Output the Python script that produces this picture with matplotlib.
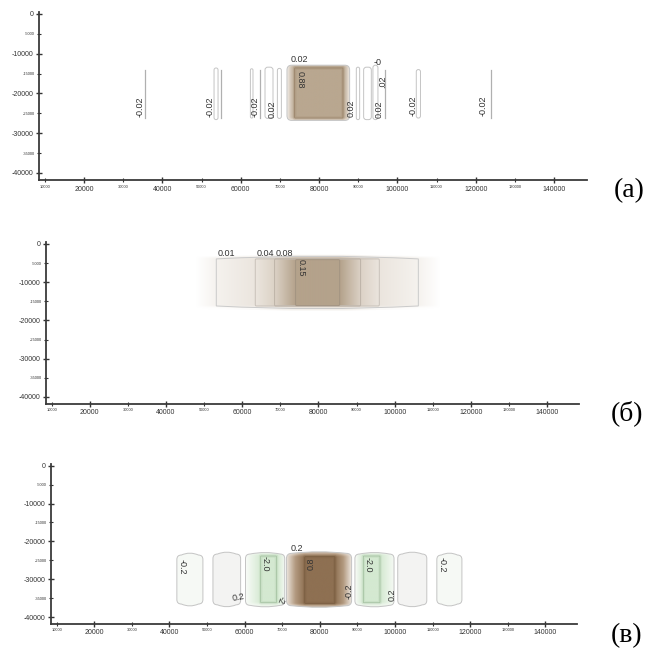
import matplotlib
matplotlib.use('Agg')
import matplotlib.pyplot as plt
import numpy as np
from matplotlib.path import Path
from matplotlib.patches import PathPatch
from matplotlib.colors import LinearSegmentedColormap
from matplotlib.ticker import MultipleLocator, FuncFormatter

plt.rcParams['font.family'] = ['Liberation Sans', 'DejaVu Sans']

X_LIM = (8500, 148400)
Y_LIM = (-41800, 400)

# ---- panel (а) ----
# narrow closed contours (left x, right x, top y, bottom y)
a_loop_x0 = [53190, 62470, 66200, 69360, 89510, 91380, 93750, 104820]
a_loop_x1 = [54210, 63130, 68240, 70380, 90360, 93340, 95030, 105890]
a_loop_top = [-13600, -13800, -13400, -13700, -13400, -13400, -12900, -14000]
a_loop_bot = [-26600, -26200, -26300, -26300, -26600, -26600, -26600, -26200]
# open contour lines
a_line_x = [35690, 54900, 64850, 96740, 123770]
a_line_top = -14000
a_line_bot = -26200
# central body: 0.02 contour and 0.88 contour
a_body_outer = [71810, 87800, -12900, -26800]
a_body_inner = [73780, 86100, -13600, -26200]
a_lab_text = ['-0.02', '-0.02', '-0.02', '0.02', '0.02', '0.88', '0.02', '0.02', '-0', '.02', '-0.02', '-0.02']
a_lab_x = [34400, 52090, 63570, 67910, 75050, 75220, 88290, 95280, 95020, 96300, 103880, 121820]
a_lab_y = [-23250, -23350, -23350, -24080, -11500, -16500, -23850, -24080, -12300, -16960, -23070, -23070]
a_lab_rot = [90, 90, 90, 90, 0, -90, 90, 90, 0, 90, 90, 90]

# ---- panel (б) ----
b_levels = [0.01, 0.04, 0.08, 0.15]
b_x0 = [53190, 63420, 68490, 74000]
b_x1 = [106220, 95970, 91060, 85570]
b_top = [-3900, -3900, -3900, -4100]
b_bot = [-16200, -16200, -16200, -16100]
b_glow = [47670, 111990, -3300, -16900]
b_lab_text = ['0.01', '0.04', '0.08', '0.15']
b_lab_x = [55810, 66050, 71040, 75500]
b_lab_y = [-2430, -2430, -2430, -6270]
b_lab_rot = [0, 0, 0, -90]

# ---- panel (в) ----
# plain closed contours
c_loop_x0 = [41980, 51580, 100730, 111130]
c_loop_x1 = [48910, 58940, 108460, 117800]
c_loop_top = [-23610, -23350, -23350, -23610]
c_loop_bot = [-36570, -36780, -36780, -36570]
c_loop_fill = ['#f6f9f5', '#f3f3f2', '#f3f3f2', '#f6f9f5']
# green bodies (outer contour, inner -2.0 contour)
c_green_outer = [[60240, 70670, -23350, -36910], [89340, 99740, -23350, -36910]]
c_green_inner = [[64270, 68470, -23880, -36220], [91580, 96010, -23880, -36220]]
# central brown body
c_body_outer = [71130, 88460, -23160, -37020]
c_body_inner = [76010, 84010, -24060, -36380]
c_lab_text = ['-0.2', '0.2', '-2.0', '-2', '0.2', '0.8', '-0.2', '-2.0', '0.2', '-0.2']
c_lab_x = [43310, 58240, 65530, 69530, 73790, 77790, 87740, 92910, 99130, 112460]
c_lab_y = [-26700, -34900, -25800, -35500, -21840, -25810, -33300, -26250, -34200, -26250]
c_lab_rot = [-90, 10, -90, -110, 0, 90, 90, -90, 90, -90]

OUTLINE = '#c4c4c4'
TXT = '#333333'


def barrel_path(x0, x1, top, bot, r=700, bulge=0):
    r = min(r, (x1 - x0) / 2, (top - bot) / 2)
    xm = (x0 + x1) / 2
    verts = [(x0, bot + r), (x0, top - r),
             (x0, top), (x0 + r, top),
             (xm, top + 2 * bulge), (x1 - r, top),
             (x1, top), (x1, top - r),
             (x1, bot + r),
             (x1, bot), (x1 - r, bot),
             (xm, bot - 2 * bulge), (x0 + r, bot),
             (x0, bot), (x0, bot + r),
             (x0, bot + r)]
    codes = [Path.MOVETO, Path.LINETO,
             Path.CURVE3, Path.CURVE3,
             Path.CURVE3, Path.CURVE3,
             Path.CURVE3, Path.CURVE3,
             Path.LINETO,
             Path.CURVE3, Path.CURVE3,
             Path.CURVE3, Path.CURVE3,
             Path.CURVE3, Path.CURVE3,
             Path.CLOSEPOLY]
    return Path(verts, codes)


def outline(ax, box, r=700, bulge=0, ec=OUTLINE, fc='none', lw=0.7, z=3):
    p = PathPatch(barrel_path(*box, r=r, bulge=bulge), fc=fc, ec=ec, lw=lw, zorder=z)
    ax.add_patch(p)
    return p


def body(ax, outer, inner, colors, edge, bulge=0, r=900):
    """Shaded body between an outer contour and an inner contour."""
    x0, x1, top, bot = outer
    ix0, ix1, itop, ibot = inner
    xs = np.linspace(x0, x1, 300)
    ys = np.linspace(bot - 2 * bulge, top + 2 * bulge, 120)
    fx = np.interp(xs, [x0, ix0, ix1, x1], [0, 1, 1, 0])
    fy = np.interp(ys, [bot, ibot, itop, top], [0.35, 1, 1, 0.35])
    cmap = LinearSegmentedColormap.from_list('b', colors)
    clip = outline(ax, outer, r=r, bulge=bulge, z=3)
    im = ax.imshow(np.outer(fy, fx), extent=(x0, x1, ys[0], ys[-1]), origin='lower',
                   cmap=cmap, vmin=0, vmax=1, aspect='auto', interpolation='bilinear', zorder=1)
    im.set_clip_path(clip)
    # soft shadow along the inner contour
    outline(ax, inner, r=150, ec=edge, lw=2.5, z=2).set_alpha(0.15)
    outline(ax, inner, r=150, ec=edge, lw=0.5, z=3).set_alpha(0.7)


def labels(ax, texts, xs, ys, rots):
    for t, x, y, r in zip(texts, xs, ys, rots):
        ax.text(x, y, t, rotation=r, ha='center', va='center', fontsize=6.5, color=TXT, zorder=5)


def style_axes(ax):
    ax.set_xlim(*X_LIM)
    ax.set_ylim(*Y_LIM)
    for s in ('top', 'right'):
        ax.spines[s].set_visible(False)
    for s in ('left', 'bottom'):
        ax.spines[s].set_linewidth(1.3)
        ax.spines[s].set_color('#3a3a3a')
    ax.xaxis.set_major_locator(MultipleLocator(20000))
    ax.xaxis.set_minor_locator(MultipleLocator(10000))
    ax.yaxis.set_major_locator(MultipleLocator(10000))
    ax.yaxis.set_minor_locator(MultipleLocator(5000))
    fmt = FuncFormatter(lambda v, p: f'{int(round(v))}')
    for axis in (ax.xaxis, ax.yaxis):
        axis.set_major_formatter(fmt)
        axis.set_minor_formatter(fmt)
    ax.tick_params(which='major', direction='inout', length=5, width=1.0, color='#333333',
                   labelsize=5, labelcolor=TXT, pad=1.5)
    ax.tick_params(which='minor', direction='inout', length=2.5, width=0.8, color='#333333',
                   labelsize=2.9, labelcolor=TXT, pad=2)


fig = plt.figure(figsize=(6.52, 6.53), dpi=100)
ax_a = fig.add_axes([0.0598, 0.7243, 0.8405, 0.2568])
ax_b = fig.add_axes([0.0706, 0.3815, 0.8175, 0.2472])
ax_c = fig.add_axes([0.0782, 0.0447, 0.8067, 0.2444])

# (а)
for x in a_line_x:
    ax_a.plot([x, x], [a_line_bot, a_line_top], color='#b0b0b0', lw=0.9, zorder=3)
for x0, x1, t, b in zip(a_loop_x0, a_loop_x1, a_loop_top, a_loop_bot):
    outline(ax_a, [x0, x1, t, b], r=700)
body(ax_a, a_body_outer, a_body_inner, ['#f2ede7', '#d2c5b5', '#b9a790'], '#8a7256', r=1200)
labels(ax_a, a_lab_text, a_lab_x, a_lab_y, a_lab_rot)

# (б)
gx0, gx1, gtop, gbot = b_glow
xs = np.linspace(gx0, gx1, 400)
ys = np.linspace(gbot - 1000, gtop + 1000, 120)
knots_x = [gx0] + b_x0 + b_x1[::-1] + [gx1]
knots_v = [0] + b_levels + b_levels[::-1] + [0]
fx = np.interp(xs, knots_x, knots_v) / max(b_levels)
fy = np.interp(ys, [gbot, b_bot[0], b_top[0], gtop], [0.1, 1, 1, 0.1])
cmap_b = LinearSegmentedColormap.from_list(
    'bb', [(0, '#ffffff'), (0.067, '#f5f2ee'), (0.267, '#ebe5de'), (0.533, '#dcd2c6'), (1, '#b4a28b')])
clip_b = outline(ax_b, b_glow, r=0, bulge=500, ec='none', z=0)
im = ax_b.imshow(np.outer(fy, fx), extent=(gx0, gx1, ys[0], ys[-1]), origin='lower', cmap=cmap_b,
                 vmin=0, vmax=1, aspect='auto', interpolation='bilinear', zorder=1)
im.set_clip_path(clip_b)
b_edges = ['#cacaca', '#c8c1b9', '#bdb3a8', '#a39482']
for i in range(len(b_levels)):
    outline(ax_b, [b_x0[i], b_x1[i], b_top[i], b_bot[i]], r=300 if i else 0,
            bulge=700 if i == 0 else 0, ec=b_edges[i], lw=0.7)
labels(ax_b, b_lab_text, b_lab_x, b_lab_y, b_lab_rot)

# (в)
for x0, x1, t, b, fc in zip(c_loop_x0, c_loop_x1, c_loop_top, c_loop_bot, c_loop_fill):
    outline(ax_c, [x0, x1, t, b], r=1200, bulge=500, fc=fc)
for outer, inner in zip(c_green_outer, c_green_inner):
    body(ax_c, outer, inner, ['#f8fbf7', '#e6f2e4', '#d4e9d1'], '#8fb08b', bulge=400, r=1200)
body(ax_c, c_body_outer, c_body_inner, ['#eee8e1', '#b39a80', '#8e7052'], '#6f5438', bulge=400, r=1400)
labels(ax_c, c_lab_text, c_lab_x, c_lab_y, c_lab_rot)

for ax in (ax_a, ax_b, ax_c):
    style_axes(ax)

serif = ['Liberation Serif', 'DejaVu Serif']
fig.text(0.9647, 0.708, '(а)', fontsize=20, family=serif, ha='center', va='center')
fig.text(0.9617, 0.3675, '(б)', fontsize=20, family=serif, ha='center', va='center')
fig.text(0.9617, 0.026, '(в)', fontsize=20, family=serif, ha='center', va='center')

fig.savefig('out.png', dpi=100)
